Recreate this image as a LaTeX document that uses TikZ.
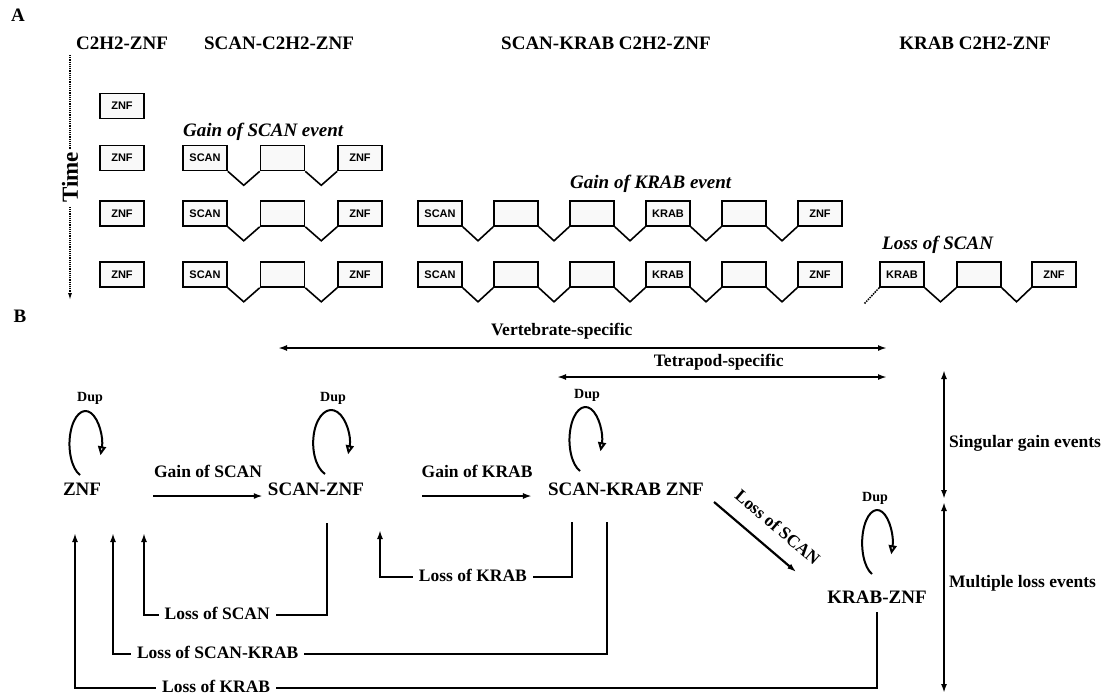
\documentclass[tikz,border=0pt]{standalone}
\usepackage{fontspec}
\setmainfont{Liberation Serif}
\newfontfamily\exonfont{Liberation Sans}
\usepackage{tikz}
\usetikzlibrary{arrows.meta, positioning, calc}

\begin{document}
\begin{tikzpicture}[
    x=1pt, y=-1pt,
    exon/.style={draw, line width=1.6pt, fill=gray!5, minimum width=44pt, minimum height=25pt, inner sep=0pt, font=\exonfont\fontsize{11}{11}\selectfont\bfseries},
    intron/.style={line width=1.6pt, to path={-- ($(\tikztostart)!0.5!(\tikztotarget)+(0,14)$) -- (\tikztotarget)}},
    header/.style={font=\fontsize{19}{22}\selectfont\bfseries, inner sep=0pt},
    event/.style={font=\fontsize{19}{22}\selectfont\bfseries\itshape, anchor=west, inner sep=0pt},
    gene/.style={font=\fontsize{19}{22}\selectfont\bfseries, inner sep=0pt},
    lbl/.style={font=\fontsize{17.5}{20}\selectfont\bfseries, inner sep=0pt},
    cut/.style={fill=white, inner xsep=6pt, inner ysep=2pt, yshift=2pt},
    dup_label/.style={font=\fontsize{14}{16}\selectfont\bfseries, inner sep=0pt},
    arrow/.style={-{Latex[length=9pt,width=6pt]}, line width=2.2pt},
    loss/.style={-{Latex[length=9pt,width=6pt]}, line width=1.8pt},
    span/.style={{Latex[length=9pt,width=6pt]}-{Latex[length=9pt,width=6pt]}, line width=1.8pt},
    dup/.style={-{Triangle[open,length=9pt,width=8pt]}, line width=2pt},
    timeline/.style={-{Latex[length=7pt,width=4pt]}, densely dotted, line width=1.2pt}
]
    \useasboundingbox (0,0) rectangle (1113,694);

    % ── Panel A : titres des colonnes ──
    \node[header] (pa) at (18,15) {A};
    \node[header] (colA) at (122,43) {C2H2-ZNF};
    \node[header] (colB) at (279,43) {SCAN-C2H2-ZNF};
    \node[header] (colC) at (606,43) {SCAN-KRAB C2H2-ZNF};
    \node[header] (colD) at (975,43) {KRAB C2H2-ZNF};

    % ── Axe du temps (pointill\'e, coup\'e par le texte) ──
    \coordinate (ttop) at (70,55);
    \coordinate (tbot) at (70,300);
    \draw[timeline] (ttop) -- node[fill=white, rotate=90, inner sep=3pt, font=\fontsize{23}{25}\selectfont\bfseries] (time) {Time} (tbot);

    % ── C2H2-ZNF seul ──
    \node[exon] (z1) at (122,106) {ZNF};
    \node[exon] (z2) at (122,158) {ZNF};
    \node[exon] (z3) at (122,213.5) {ZNF};
    \node[exon] (z4) at (122,274.5) {ZNF};

    % ── SCAN-C2H2-ZNF ──
    \node[event] (gainscan) at (183,132) {Gain of SCAN event};
    \node[exon] (s2a) at (205,158) {SCAN};
    \node[exon] (s2b) at (282.5,158) {};
    \node[exon] (s2c) at (360,158) {ZNF};
    \draw[intron] (s2a.south east) to (s2b.south west);
    \draw[intron] (s2b.south east) to (s2c.south west);

    \node[exon] (s3a) at (205,213.5) {SCAN};
    \node[exon] (s3b) at (282.5,213.5) {};
    \node[exon] (s3c) at (360,213.5) {ZNF};
    \draw[intron] (s3a.south east) to (s3b.south west);
    \draw[intron] (s3b.south east) to (s3c.south west);

    \node[exon] (s4a) at (205,274.5) {SCAN};
    \node[exon] (s4b) at (282.5,274.5) {};
    \node[exon] (s4c) at (360,274.5) {ZNF};
    \draw[intron] (s4a.south east) to (s4b.south west);
    \draw[intron] (s4b.south east) to (s4c.south west);

    % ── SCAN-KRAB C2H2-ZNF ──
    \node[event] (gainkrab) at (570,184) {Gain of KRAB event};
    \node[exon] (sk3a) at (440,213.5) {SCAN};
    \node[exon] (sk3b) at (516,213.5) {};
    \node[exon] (sk3c) at (592,213.5) {};
    \node[exon] (sk3d) at (668,213.5) {KRAB};
    \node[exon] (sk3e) at (744,213.5) {};
    \node[exon] (sk3f) at (820,213.5) {ZNF};
    \draw[intron] (sk3a.south east) to (sk3b.south west);
    \draw[intron] (sk3b.south east) to (sk3c.south west);
    \draw[intron] (sk3c.south east) to (sk3d.south west);
    \draw[intron] (sk3d.south east) to (sk3e.south west);
    \draw[intron] (sk3e.south east) to (sk3f.south west);

    \node[exon] (sk4a) at (440,274.5) {SCAN};
    \node[exon] (sk4b) at (516,274.5) {};
    \node[exon] (sk4c) at (592,274.5) {};
    \node[exon] (sk4d) at (668,274.5) {KRAB};
    \node[exon] (sk4e) at (744,274.5) {};
    \node[exon] (sk4f) at (820,274.5) {ZNF};
    \draw[intron] (sk4a.south east) to (sk4b.south west);
    \draw[intron] (sk4b.south east) to (sk4c.south west);
    \draw[intron] (sk4c.south east) to (sk4d.south west);
    \draw[intron] (sk4d.south east) to (sk4e.south west);
    \draw[intron] (sk4e.south east) to (sk4f.south west);

    % ── KRAB C2H2-ZNF ──
    \node[event] (lossscan) at (882,245) {Loss of SCAN};
    \node[exon] (k4a) at (902,274.5) {KRAB};
    \node[exon] (k4b) at (979,274.5) {};
    \node[exon] (k4c) at (1054,274.5) {ZNF};
    \draw[intron] (k4a.south east) to (k4b.south west);
    \draw[intron] (k4b.south east) to (k4c.south west);
    \draw[densely dotted, line width=1.5pt] (k4a.south west) -- ++(-15,16);

    % ── Panel B : familles ──
    \node[header] (pb) at (20,316) {B};
    \node[gene] (znf) at (82,489) {ZNF};
    \node[gene] (scanznf) at (316,489) {SCAN-ZNF};
    \node[gene] (skznf) at (626,489) {SCAN-KRAB ZNF};
    \node[gene] (krabznf) at (877,597) {KRAB-ZNF};

    % ── Duplications ──
    \node[dup_label] (dup1) at (90,398) {Dup};
    \node[dup_label] (dup2) at (333,398) {Dup};
    \node[dup_label] (dup3) at (587,395) {Dup};
    \node[dup_label] (dup4) at (875,498) {Dup};
    \draw[dup] ($(znf)+(-2,-14)$) arc[start angle=250, end angle=-20, x radius=16pt, y radius=33pt];
    \draw[dup] ($(scanznf)+(9,-15)$) arc[start angle=250, end angle=-20, x radius=18pt, y radius=33pt];
    \draw[dup] ($(skznf)+(-46,-18)$) arc[start angle=250, end angle=-20, x radius=16pt, y radius=33pt];
    \draw[dup] ($(krabznf)+(-5,-23)$) arc[start angle=250, end angle=-20, x radius=15pt, y radius=33pt];

    % ── Gains ──
    \draw[arrow] ($(znf.east)+(52,7)$) -- node[lbl, above=17pt] {Gain of SCAN} ($(scanznf.west)+(-5,7)$);
    \draw[arrow] ($(scanznf.east)+(58,7)$) -- node[lbl, above=17pt] {Gain of KRAB} ($(skznf.west)+(-16,7)$);
    \draw[arrow] ($(skznf.east)+(10,13)$) -- node[lbl, sloped, above=15pt, pos=0.6] {Loss of SCAN} ($(krabznf.west)+(-31,-25)$);

    % ── Pertes (retour vers la gauche) ──
    \draw[loss] ($(scanznf)+(11,34)$) |- node[lbl, cut, pos=0.8] {Loss of SCAN} ($(znf)+(62,126)$) -- ($(znf)+(62,44)$);
    \draw[loss] ($(skznf)+(-54,33)$) |- node[lbl, cut, pos=0.758] {Loss of KRAB} ($(scanznf)+(64,88)$) -- ($(scanznf)+(64,41)$);
    \draw[loss] ($(skznf)+(-19,33)$) |- node[lbl, cut, pos=0.894] {Loss of SCAN-KRAB} ($(znf)+(31,165)$) -- ($(znf)+(31,44)$);
    \draw[loss] ($(krabznf)+(0,15)$) |- node[lbl, cut, pos=0.912] {Loss of KRAB} ($(znf)+(-7,199)$) -- ($(znf)+(-7,44)$);

    % ── Port\'ee phylog\'en\'etique ──
    \coordinate (vleft) at (278,348);
    \coordinate (vright) at (887,348);
    \coordinate (tleft) at (557,377);
    \coordinate (tright) at (887,377);
    \draw[span] (vleft) -- node[lbl, pos=0.466, above=8pt] {Vertebrate-specific} (vright);
    \draw[span] (tleft) -- node[lbl, pos=0.49, above=6pt] {Tetrapod-specific} (tright);

    % ── Gains uniques / pertes multiples ──
    \coordinate (sgtop) at (944,370);
    \coordinate (sgbot) at (944,499);
    \coordinate (mltop) at (944,502);
    \coordinate (mlbot) at (944,693);
    \draw[span] (sgtop) -- (sgbot);
    \draw[span] (mltop) -- (mlbot);
    \node[lbl, anchor=west] (singular) at (949,443) {Singular gain events};
    \node[lbl, anchor=west] (multiple) at (949,583) {Multiple loss events};

\end{tikzpicture}
\end{document}
